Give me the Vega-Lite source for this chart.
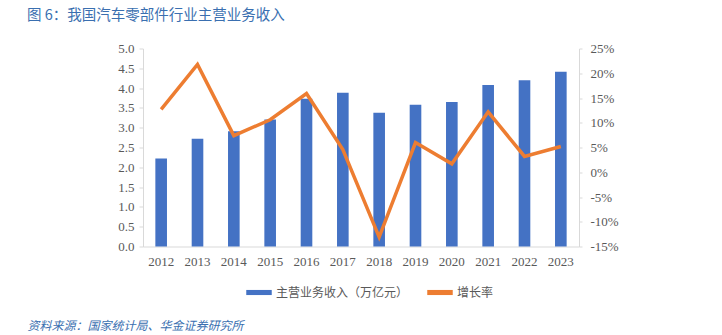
{
  "$schema": "https://vega.github.io/schema/vega-lite/v6.json",
  "autosize": {"type": "none"},
  "width": 436,
  "height": 198,
  "padding": {"left": 143, "top": 48.5, "right": 143, "bottom": 88.5},
  "background": "white",
  "title": {
    "text": "图 6：我国汽车零部件行业主营业务收入",
    "anchor": "start",
    "frame": "group",
    "dx": -116,
    "offset": 19,
    "font": "Noto Sans CJK SC",
    "fontSize": 14.5,
    "fontWeight": "normal",
    "color": "#3a6fb0"
  },
  "config": {
    "view": {"stroke": null},
    "axis": {"grid": false, "domainColor": "#d9d9d9", "tickColor": "#d9d9d9", "labelColor": "#595959", "labelFont": "Liberation Serif", "labelFontSize": 13}
  },
  "data": {
    "values": [
      {"year": "2012", "revenue": 2.22, "growth": 12.7},
      {"year": "2013", "revenue": 2.72, "growth": 21.8},
      {"year": "2014", "revenue": 2.91, "growth": 7.4},
      {"year": "2015", "revenue": 3.21, "growth": 10.6},
      {"year": "2016", "revenue": 3.73, "growth": 15.9},
      {"year": "2017", "revenue": 3.88, "growth": 4.6},
      {"year": "2018", "revenue": 3.38, "growth": -13.1},
      {"year": "2019", "revenue": 3.58, "growth": 6.0},
      {"year": "2020", "revenue": 3.65, "growth": 1.7},
      {"year": "2021", "revenue": 4.08, "growth": 12.2},
      {"year": "2022", "revenue": 4.20, "growth": 3.2},
      {"year": "2023", "revenue": 4.41, "growth": 5.2}
    ]
  },
  "encoding": {
    "x": {
      "field": "year",
      "type": "ordinal",
      "scale": {"paddingInner": 0, "paddingOuter": 0},
      "axis": {
        "title": "资料来源：国家统计局、华金证券研究所",
        "titleX": -116,
        "titleY": 83,
        "titleAlign": "left",
        "titleBaseline": "alphabetic",
        "titleFont": "Noto Sans CJK SC",
        "titleFontSize": 12,
        "titleFontStyle": "italic",
        "titleFontWeight": "normal",
        "titleColor": "#3a6fb0",
        "labelAngle": 0,
        "ticks": false,
        "labelPadding": 9,
        "domainColor": "#d9d9d9"
      }
    }
  },
  "layer": [
    {
      "mark": {"type": "bar", "width": {"band": 0.32}},
      "encoding": {
        "y": {
          "field": "revenue",
          "type": "quantitative",
          "scale": {"domain": [0, 5], "nice": false},
          "axis": {"title": null, "values": [0, 0.5, 1, 1.5, 2, 2.5, 3, 3.5, 4, 4.5, 5], "format": ".1f", "tickSize": 4, "labelPadding": 5}
        },
        "color": {
          "datum": "主营业务收入（万亿元）",
          "scale": {"domain": ["主营业务收入（万亿元）", "增长率"], "range": ["#4472c4", "#ed7d31"]},
          "legend": {
            "title": null,
            "orient": "none",
            "direction": "horizontal",
            "legendX": 103,
            "legendY": 231,
            "symbolType": "M-1,-0.2L1,-0.2L1,0.2L-1,0.2Z",
            "symbolSize": 650,
            "symbolStrokeWidth": 0,
            "labelFont": "Noto Sans CJK SC",
            "labelFontSize": 12,
            "labelColor": "#595959",
            "labelOffset": 4,
            "columnPadding": 18
          }
        }
      }
    },
    {
      "mark": {"type": "line", "strokeWidth": 3.5},
      "encoding": {
        "y": {
          "field": "growth",
          "type": "quantitative",
          "scale": {"domain": [-15, 25], "nice": false},
          "axis": {"title": null, "orient": "right", "values": [-15, -10, -5, 0, 5, 10, 15, 20, 25], "labelExpr": "datum.value + '%'", "tickSize": 3, "labelPadding": 8}
        },
        "color": {"datum": "增长率"}
      }
    }
  ],
  "resolve": {"scale": {"y": "independent"}}
}
